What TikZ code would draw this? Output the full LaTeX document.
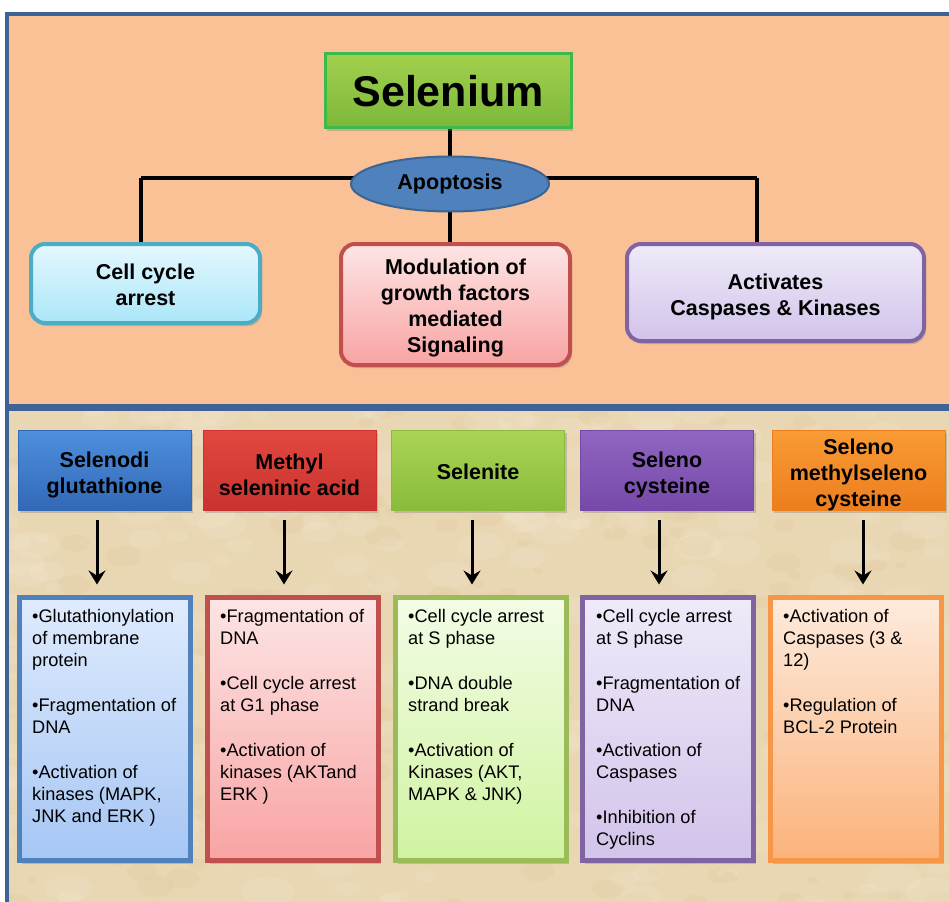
\documentclass[tikz,border=0pt]{standalone}
\usepackage{fontspec}
\setmainfont{Liberation Sans}
\usetikzlibrary{shadows,arrows.meta,shapes.geometric}
\pgfdeclarelayer{bg}
\pgfdeclarelayer{lines}
\pgfsetlayers{bg,lines,main}
\definecolor{frameblue}{HTML}{3F6396}
\definecolor{peach}{HTML}{F9C195}
\definecolor{parch}{HTML}{E9D6B2}
\definecolor{parchlight}{HTML}{F3E7CF}
\definecolor{parchdark}{HTML}{D9C39A}
\definecolor{selTop}{HTML}{A2D04E}
\definecolor{selBot}{HTML}{7DB83A}
\definecolor{selBorder}{HTML}{3DBB4A}
\definecolor{apFill}{HTML}{4F81BD}
\definecolor{apBorder}{HTML}{3A6496}
\definecolor{cyanBorder}{HTML}{4BACC6}
\definecolor{cyanTop}{HTML}{E4F8FE}
\definecolor{cyanBot}{HTML}{ABE6F8}
\definecolor{redBorder}{HTML}{C0504D}
\definecolor{pinkTop}{HTML}{FDE5E5}
\definecolor{pinkBot}{HTML}{F8A4A3}
\definecolor{purBorder}{HTML}{8064A2}
\definecolor{lavTop}{HTML}{EFEAF9}
\definecolor{lavBot}{HTML}{D2C3EA}
\definecolor{blueBorder}{HTML}{4F81BD}
\definecolor{lbTop}{HTML}{DFEBFD}
\definecolor{lbBot}{HTML}{A6C6F4}
\definecolor{greenBorder}{HTML}{9BBB59}
\definecolor{lgTop}{HTML}{F3FCE6}
\definecolor{lgBot}{HTML}{D0F3A0}
\definecolor{orBorder}{HTML}{F79646}
\definecolor{loTop}{HTML}{FDEBDD}
\definecolor{loBot}{HTML}{FBB27A}
\definecolor{hBlueT}{HTML}{4D90DD}
\definecolor{hBlueB}{HTML}{3268B6}
\definecolor{hRedT}{HTML}{E2483F}
\definecolor{hRedB}{HTML}{C9322F}
\definecolor{hGreenT}{HTML}{AAD455}
\definecolor{hGreenB}{HTML}{8ABB3A}
\definecolor{hPurT}{HTML}{9066C2}
\definecolor{hPurB}{HTML}{7649A8}
\definecolor{hOrT}{HTML}{F99B35}
\definecolor{hOrB}{HTML}{EC7E1E}
\tikzset{
  conn/.style={line width=4pt, black},
  arr/.style={line width=3pt, black, -{Stealth[length=14pt,width=17pt,inset=5pt]}},
  boxlabel/.style={align=center, font=\fontsize{21.5}{26}\selectfont\bfseries},
  topbox/.style={rectangle, rounded corners=14pt, line width=4pt, outer sep=0pt,
    drop shadow={shadow xshift=2pt,shadow yshift=-3pt,opacity=0.35}},
  headbox/.style={rectangle, minimum width=173pt, minimum height=80pt, outer sep=0pt,
    line width=0.8pt,
    drop shadow={shadow xshift=2pt,shadow yshift=-3pt,opacity=0.35}},
  listbox/.style={rectangle, minimum width=171pt, minimum height=263pt, outer sep=0pt,
    line width=5pt, drop shadow={shadow xshift=2pt,shadow yshift=-3pt,opacity=0.35}},
  listtext/.style={anchor=north west, inner sep=0pt, align=left,
    font=\fontsize{18.2}{22}\selectfont}
}
\begin{document}
\begin{tikzpicture}[x=1pt,y=-1pt]
\useasboundingbox (0,0) rectangle (949,901);
\clip (0,0) rectangle (949,901);
\begin{pgfonlayer}{bg}
\fill[white] (0,0) rectangle (949,901);
\draw[line width=4pt, draw=frameblue, fill=peach] (7,14) rectangle (975,406);
\begin{scope}
\clip (7,409) rectangle (975,930);
\fill[parch] (7,409) rectangle (975,930);
\pgfmathsetseed{11}
\foreach \i in {1,...,260} {
  \pgfmathsetmacro\px{rnd*949}
  \pgfmathsetmacro\py{410+rnd*495}
  \pgfmathsetmacro\rr{4+rnd*12}
  \fill[parchlight, opacity=0.28] (\px,\py) ellipse [x radius=\rr*1.8, y radius=\rr];
}
\foreach \i in {1,...,200} {
  \pgfmathsetmacro\px{rnd*949}
  \pgfmathsetmacro\py{410+rnd*495}
  \pgfmathsetmacro\rr{3+rnd*8}
  \fill[parchdark, opacity=0.15] (\px,\py) ellipse [x radius=\rr*1.7, y radius=\rr];
}
\end{scope}
\draw[line width=4pt, draw=frameblue] (7,409) rectangle (975,930);
\end{pgfonlayer}

% top part
\node[rectangle, minimum width=246pt, minimum height=74pt, outer sep=0pt,
  top color=selTop, bottom color=selBot, draw=selBorder, line width=3pt,
  font=\fontsize{43}{50}\selectfont\bfseries,
  drop shadow={shadow xshift=2pt,shadow yshift=-3pt,opacity=0.35}] (se) at (448,91) {Selenium};
\node[ellipse, minimum width=198pt, minimum height=55pt, outer sep=0pt, inner sep=0pt,
  fill=apFill, draw=apBorder, line width=2pt,
  font=\fontsize{21.5}{26}\selectfont\bfseries] (ap) at (450,184) {Apoptosis};
\node[topbox, minimum width=229pt, minimum height=79pt, draw=cyanBorder,
  top color=cyanTop, bottom color=cyanBot,
  label={[boxlabel, yshift=-1pt]center:{Cell cycle\\arrest}}] (cc) at (145.5,283.5) {};
\node[topbox, minimum width=229pt, minimum height=121pt, draw=redBorder,
  top color=pinkTop, bottom color=pinkBot,
  label={[boxlabel, yshift=-3pt]center:{Modulation of\\growth factors\\mediated\\Signaling}}] (mod) at (455.5,304.5) {};
\node[topbox, minimum width=297pt, minimum height=97pt, draw=purBorder,
  top color=lavTop, bottom color=lavBot,
  label={[boxlabel, yshift=-4pt]center:{Activates\\Caspases \& Kinases}}] (ac) at (775.5,292.5) {};

\coordinate (lc) at (141,178);
\coordinate (rc) at (757,178);
\begin{pgfonlayer}{lines}
\draw[conn] (ap.north |- se.south) -- (ap.north);
\draw[conn] (lc) -- (rc);
\draw[conn] (lc) -- (lc |- cc.north);
\draw[conn] (rc) -- (rc |- ac.north);
\draw[conn] (ap.south) -- (ap.south |- mod.north);
\end{pgfonlayer}

% header boxes
\node[headbox, top color=hBlueT, bottom color=hBlueB, draw=hBlueB,
  label={[boxlabel, yshift=-5pt]center:{Selenodi\\glutathione}}] (h1) at (104.5,470) {};
\node[headbox, top color=hRedT, bottom color=hRedB, draw=hRedB,
  label={[boxlabel, yshift=-5pt]center:{Methyl\\seleninic acid}}] (h2) at (289.5,470) {};
\node[headbox, top color=hGreenT, bottom color=hGreenB, draw=hGreenB,
  label={[boxlabel, yshift=-2pt]center:{Selenite}}] (h3) at (478,470) {};
\node[headbox, top color=hPurT, bottom color=hPurB, draw=hPurB,
  label={[boxlabel, yshift=-5pt]center:{Seleno\\cysteine}}] (h4) at (667,470) {};
\node[headbox, top color=hOrT, bottom color=hOrB, draw=hOrB,
  label={[boxlabel, yshift=-5pt]center:{Seleno\\methylseleno\\cysteine}}] (h5) at (858.5,470) {};

% list boxes
\node[listbox, draw=blueBorder, top color=lbTop, bottom color=lbBot] (c1) at (105,729) {};
\node[listbox, draw=redBorder, top color=pinkTop, bottom color=pinkBot] (c2) at (293,729) {};
\node[listbox, draw=greenBorder, top color=lgTop, bottom color=lgBot] (c3) at (481,729) {};
\node[listbox, draw=purBorder, top color=lavTop, bottom color=lavBot] (c4) at (668,729) {};
\node[listbox, draw=orBorder, top color=loTop, bottom color=loBot] (c5) at (856,729) {};

% arrows
\draw[arr] ([xshift=-7.5pt,yshift=-10pt]h1.south) -- ([xshift=-8pt,yshift=13pt]c1.north);
\draw[arr] ([xshift=-5.5pt,yshift=-10pt]h2.south) -- ([xshift=-9pt,yshift=13pt]c2.north);
\draw[arr] ([xshift=-6pt,yshift=-10pt]h3.south) -- ([xshift=-9pt,yshift=13pt]c3.north);
\draw[arr] ([xshift=-8pt,yshift=-10pt]h4.south) -- ([xshift=-9pt,yshift=13pt]c4.north);
\draw[arr] ([xshift=4.5pt,yshift=-10pt]h5.south) -- ([xshift=7pt,yshift=13pt]c5.north);

% list texts
\node[listtext] (t1) at (32,609) {•Glutathionylation\\of membrane\\protein\\[23pt]•Fragmentation of\\DNA\\[23pt]•Activation of\\kinases (MAPK,\\JNK and ERK )};
\node[listtext] (t2) at (220,609) {•Fragmentation of\\DNA\\[23pt]•Cell cycle arrest\\at G1 phase\\[23pt]•Activation of\\kinases (AKTand\\ERK )};
\node[listtext] (t3) at (408,609) {•Cell cycle arrest\\at S phase\\[23pt]•DNA double\\strand break\\[23pt]•Activation of\\Kinases (AKT,\\MAPK \& JNK)};
\node[listtext] (t4) at (596,609) {•Cell cycle arrest\\at S phase\\[23pt]•Fragmentation of\\DNA\\[23pt]•Activation of\\Caspases\\[23pt]•Inhibition of\\Cyclins};
\node[listtext] (t5) at (783,609) {•Activation of\\Caspases (3 \&\\12)\\[23pt]•Regulation of\\BCL-2 Protein};
\end{tikzpicture}
\end{document}
